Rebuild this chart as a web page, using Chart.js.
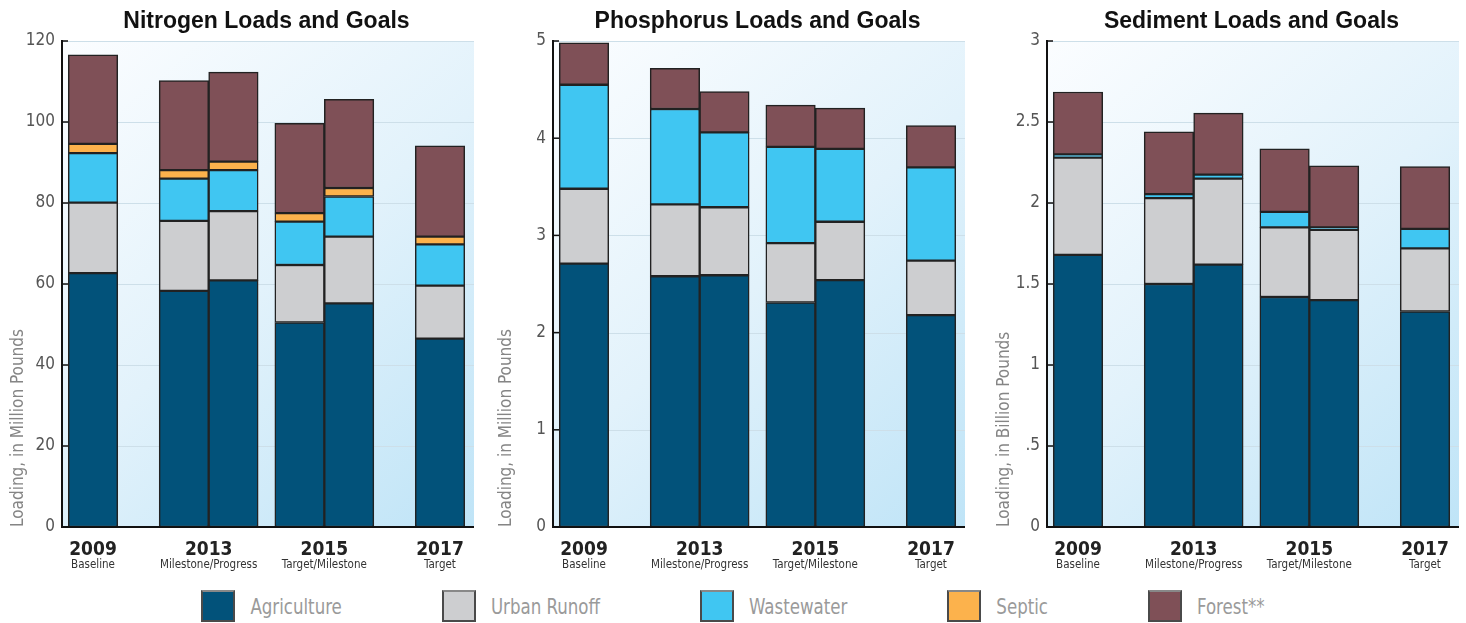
<!DOCTYPE html>
<html>
<head>
<meta charset="utf-8">
<script src="https://cdn.jsdelivr.net/npm/chart.js@4.4.0/dist/chart.umd.min.js"></script>
<style>
body { margin: 0; background: #fff; width: 1466px; height: 623px; overflow: hidden;
  font-family: 'DejaVu Sans Condensed', 'Liberation Sans Narrow', sans-serif; }
.panel { position: absolute; top: 0; height: 580px; }
#legend { position: absolute; left: 0; top: 590px; width: 1466px; display: flex; justify-content: center; }
.item { display: flex; align-items: center; margin-right: 100px; }
.item:last-child { margin-right: 0; }
.swatch { width: 30px; height: 28px; border: 2px solid #4a4a4a; border-top-color: #888; margin-right: 15px; }
.item span { color: #9a9a9a; font-size: 18.5px; display: inline-block; transform: scaleY(1.15); }
</style>
</head>
<body>
<div class="panel" style="left:0;width:485px"><canvas id="nitrogen"></canvas></div>
<div class="panel" style="left:490px;width:485px"><canvas id="phosphorus"></canvas></div>
<div class="panel" style="left:980px;width:486px"><canvas id="sediment"></canvas></div>
<div id="legend"></div>
<script>
const sources = ['Agriculture', 'Urban Runoff', 'Wastewater', 'Septic', 'Forest**'];
const colors = ['#02527a', '#cdced0', '#40c6f2', '#fcb24c', '#7f5057'];
const years = ['2009', '2013', '2015', '2017'];
const stages = ['Baseline', 'Milestone/Progress', 'Target/Milestone', 'Target'];

// bar order: 2009 Baseline, 2013 Milestone, 2013 Progress, 2015 Target, 2015 Milestone, 2017 Target
const firstBar = [0, 1, 3, 5];
const secondBar = [null, 2, 4, null];

// Nitrogen, million pounds
const nitrogenAgriculture = [62.7, 58.3, 60.9, 50.5, 55.2, 46.5];
const nitrogenUrban = [17.4, 17.3, 17.1, 14.2, 16.5, 13.1];
const nitrogenWastewater = [12.2, 10.4, 10.1, 10.7, 9.9, 10.2];
const nitrogenSeptic = [2.3, 2.1, 2.1, 2.1, 2.1, 1.9];
const nitrogenForest = [22.0, 22.1, 22.1, 22.2, 21.9, 22.4];

// Phosphorus, million pounds
const phosphorusAgriculture = [2.71, 2.58, 2.59, 2.31, 2.54, 2.18];
const phosphorusUrban = [0.77, 0.74, 0.70, 0.61, 0.60, 0.56];
const phosphorusWastewater = [1.07, 0.98, 0.77, 0.99, 0.75, 0.96];
const phosphorusSeptic = [0, 0, 0, 0, 0, 0];
const phosphorusForest = [0.43, 0.42, 0.42, 0.43, 0.42, 0.43];

// Sediment, billion pounds
const sedimentAgriculture = [1.68, 1.50, 1.62, 1.42, 1.40, 1.33];
const sedimentUrban = [0.60, 0.53, 0.53, 0.43, 0.435, 0.39];
const sedimentWastewater = [0.02, 0.025, 0.025, 0.095, 0.015, 0.12];
const sedimentSeptic = [0, 0, 0, 0, 0, 0];
const sedimentForest = [0.385, 0.385, 0.38, 0.39, 0.38, 0.385];

const narrow = "'DejaVu Sans Condensed', 'Liberation Sans Narrow', sans-serif";

// plot frame is a bit wider than the category range (first/last group sit near the edges)
const frame = {
  id: 'frame',
  beforeDraw(chart, args, opts) {
    const { ctx, chartArea: a, scales: { y } } = chart;
    const left = a.left - opts.padLeft, right = a.right + opts.padRight;
    const g = ctx.createLinearGradient(left, a.top, right, a.bottom);
    g.addColorStop(0, '#fbfdff');
    g.addColorStop(0.5, '#e2f2fb');
    g.addColorStop(1, '#bfe4f7');
    ctx.save();
    ctx.fillStyle = g;
    ctx.fillRect(left, a.top, right - left, a.bottom - a.top);
    ctx.strokeStyle = '#cddfe9';
    ctx.lineWidth = 1;
    y.ticks.forEach(t => {
      const py = Math.round(y.getPixelForValue(t.value)) + 0.5;
      ctx.beginPath();
      ctx.moveTo(left, py);
      ctx.lineTo(right, py);
      ctx.stroke();
    });
    ctx.restore();
  },
  afterDraw(chart, args, opts) {
    const { ctx, chartArea: a, scales: { y } } = chart;
    const left = a.left - opts.padLeft, right = a.right + opts.padRight;
    ctx.save();
    ctx.strokeStyle = '#111';
    ctx.lineWidth = 2;
    ctx.beginPath();
    ctx.moveTo(left, a.top - 1);
    ctx.lineTo(left, a.bottom);
    ctx.lineTo(right, a.bottom);
    ctx.stroke();
    ctx.lineWidth = 1.5;
    y.ticks.forEach(t => {
      const py = y.getPixelForValue(t.value);
      ctx.beginPath();
      ctx.moveTo(left, py);
      ctx.lineTo(left + 6, py);
      ctx.stroke();
    });
    ctx.restore();
  }
};

function buildSets(rows) {
  const sets = [];
  rows.forEach((vals, i) => {
    const style = { backgroundColor: colors[i], borderColor: '#222', borderWidth: 1.5,
      borderSkipped: false, barThickness: 49.5, clip: false };
    sets.push(Object.assign({ label: sources[i], stack: 'first',
      data: firstBar.map(k => vals[k]) }, style));
    sets.push(Object.assign({ label: sources[i], stack: 'second',
      data: secondBar.map(k => k === null ? null : vals[k]) }, style));
  });
  return sets;
}

function makeChart(id, title, yTitle, max, step, rows, axisX, rightPad, titlePad) {
  new Chart(document.getElementById(id), {
    type: 'bar',
    data: { labels: years, datasets: buildSets(rows) },
    plugins: [frame],
    options: {
      responsive: true,
      maintainAspectRatio: false,
      animation: false,
      skipNull: true,
      layout: { padding: { left: 0, right: rightPad, bottom: 3, top: 0 } },
      plugins: {
        legend: { display: false },
        tooltip: { enabled: false },
        frame: { padLeft: 31, padRight: 34 },
        title: {
          display: true, text: title, fullSize: false, color: '#111',
          font: { family: "'Liberation Sans', Arial, sans-serif", size: 23, weight: 'bold' },
          padding: { top: 8, bottom: 5.4 }
        }
      },
      scales: {
        x: {
          offset: false,
          weight: 0,
          grid: { display: false, drawTicks: false },
          border: { display: false },
          ticks: { color: '#222', padding: 12, maxRotation: 0, autoSkip: false,
            font: { family: narrow, size: 19, weight: 'bold' } },
          afterFit(s) { s.height = 30; }
        },
        x2: {
          type: 'category',
          position: 'bottom',
          labels: stages,
          offset: false,
          weight: 1,
          grid: { display: false, drawTicks: false },
          border: { display: false },
          ticks: { color: '#333', padding: 1, maxRotation: 0, minRotation: 0, autoSkip: false,
            font: { family: narrow, size: 11.5 } },
          afterFit(s) { s.height = 20; }
        },
        y: {
          stacked: true,
          min: 0,
          max: max,
          grid: { display: false, drawTicks: false },
          border: { display: false },
          ticks: {
            stepSize: step, padding: 38, color: '#555',
            font: { family: narrow, size: 17 },
            callback: v => (v > 0 && v < 1) ? String(v).replace(/^0/, '') : String(v)
          },
          title: {
            display: true, text: yTitle, align: 'start', color: '#858585',
            font: { family: narrow, size: 17 }, padding: { top: titlePad, bottom: 0 }
          },
          afterFit(s) {
            s.width = axisX + 31;
            s.paddingTop = 10;
            s.paddingBottom = 10;
          }
        }
      }
    }
  });
}

makeChart('nitrogen', 'Nitrogen Loads and Goals', 'Loading, in Million Pounds', 120, 20,
  [nitrogenAgriculture, nitrogenUrban, nitrogenWastewater, nitrogenSeptic, nitrogenForest], 62, 45, 8);
makeChart('phosphorus', 'Phosphorus Loads and Goals', 'Loading, in Million Pounds', 5, 1,
  [phosphorusAgriculture, phosphorusUrban, phosphorusWastewater, phosphorusSeptic, phosphorusForest], 63, 44, 6);
makeChart('sediment', 'Sediment Loads and Goals', 'Loading, in Billion Pounds', 3, 0.5,
  [sedimentAgriculture, sedimentUrban, sedimentWastewater, sedimentSeptic, sedimentForest], 67, 41, 14);

const legend = document.getElementById('legend');
sources.forEach((name, i) => {
  const item = document.createElement('div');
  item.className = 'item';
  const sw = document.createElement('div');
  sw.className = 'swatch';
  sw.style.background = colors[i];
  const label = document.createElement('span');
  label.textContent = name;
  item.appendChild(sw);
  item.appendChild(label);
  legend.appendChild(item);
});
</script>
</body>
</html>
